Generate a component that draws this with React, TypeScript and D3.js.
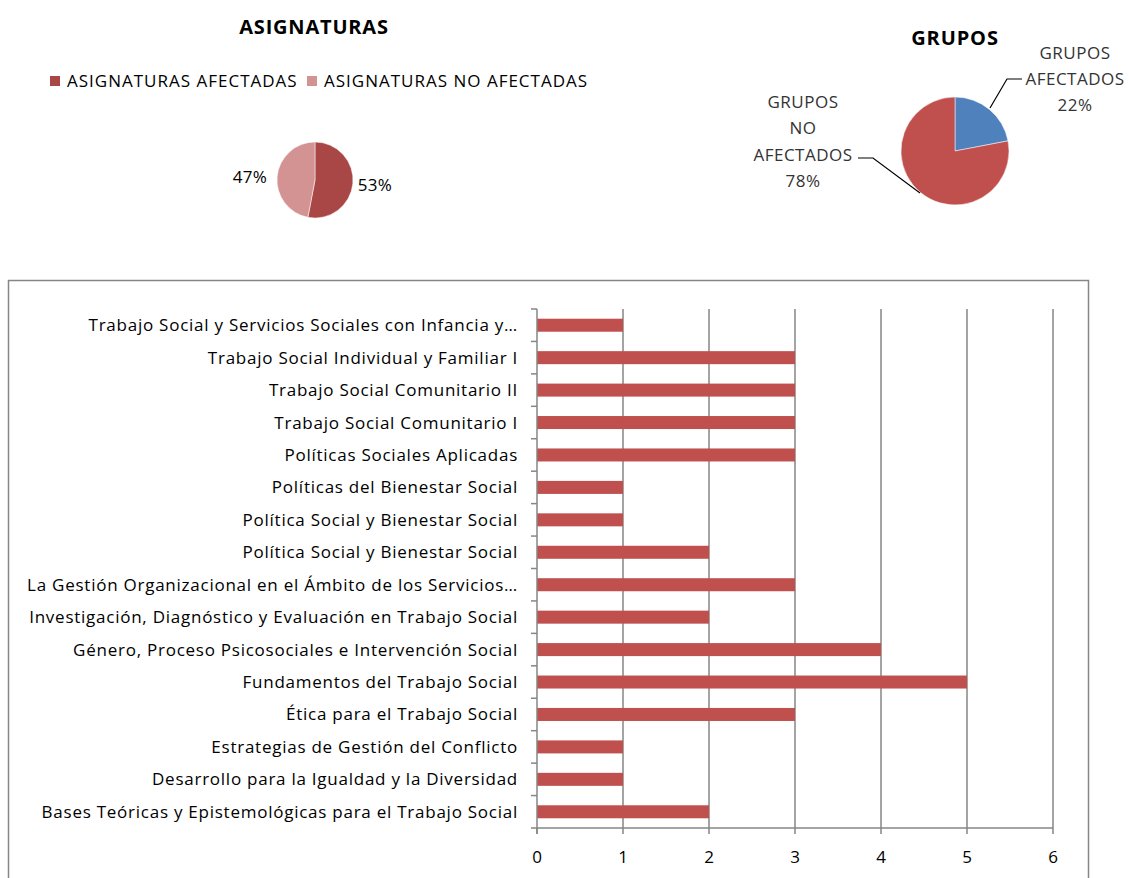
import React, { useEffect, useRef } from "react";
import * as d3 from "d3";

const categories = [
  "Trabajo Social y Servicios Sociales con Infancia y…",
  "Trabajo Social Individual y Familiar I",
  "Trabajo Social Comunitario II",
  "Trabajo Social Comunitario I",
  "Políticas Sociales Aplicadas",
  "Políticas del Bienestar Social",
  "Política Social y Bienestar Social",
  "Política Social y Bienestar Social",
  "La Gestión Organizacional en el Ámbito de los Servicios…",
  "Investigación, Diagnóstico y Evaluación en Trabajo Social",
  "Género, Proceso Psicosociales e Intervención Social",
  "Fundamentos del Trabajo Social",
  "Ética para el Trabajo Social",
  "Estrategias de Gestión del Conflicto",
  "Desarrollo para la Igualdad y la Diversidad",
  "Bases Teóricas y Epistemológicas para el Trabajo Social",
];
const values = [1, 3, 3, 3, 3, 1, 1, 2, 3, 2, 4, 5, 3, 1, 1, 2];
const xTicks = [0, 1, 2, 3, 4, 5, 6];

const asigLabels = ["ASIGNATURAS AFECTADAS", "ASIGNATURAS NO AFECTADAS"];
const asigValues = [53, 47];
const asigColors = ["#A94646", "#D39392"];

const gruposLabels = ["GRUPOS AFECTADOS", "GRUPOS NO AFECTADOS"];
const gruposValues = [22, 78];
const gruposColors = ["#4F81BD", "#C0504D"];

const FONT = "'Open Sans', 'Noto Sans', sans-serif";

export default function App() {
  const ref = useRef<SVGSVGElement>(null);
  useEffect(() => {
    const svg = d3.select(ref.current);
    svg.selectAll("*").remove();
    svg.attr("font-family", FONT);

    // ---------- Pie 1: ASIGNATURAS ----------
    const g1 = svg.append("g");
    g1.append("text").attr("x", 314).attr("y", 34).attr("text-anchor", "middle")
      .attr("font-size", 20).attr("font-weight", "bold").attr("letter-spacing", 0.8).text("ASIGNATURAS");
    const legX = [50, 307];
    asigLabels.forEach((l, i) => {
      g1.append("rect").attr("x", legX[i]).attr("y", 76).attr("width", 10).attr("height", 10).attr("fill", asigColors[i]);
      g1.append("text").attr("x", legX[i] + 17).attr("y", 87).attr("font-size", 17).attr("letter-spacing", 1.0).text(l);
    });
    const pie = d3.pie<number>().sort(null).value((d) => d);
    const arc1 = d3.arc<d3.PieArcDatum<number>>().innerRadius(0).outerRadius(38);
    const p1 = g1.append("g").attr("transform", "translate(315,180)");
    const a1 = pie(asigValues);
    p1.selectAll("path").data(a1).join("path").attr("d", arc1 as any)
      .attr("fill", (_, i) => asigColors[i]).attr("stroke", "#fff").attr("stroke-width", 0.5);
    const lbl1 = [[60, 11], [-65, 3]];
    a1.forEach((d, i) => {
      p1.append("text").attr("x", lbl1[i][0]).attr("y", lbl1[i][1]).attr("text-anchor", "middle")
        .attr("font-size", 17).attr("letter-spacing", 0.3).text(`${asigValues[i]}%`);
    });

    // ---------- Pie 2: GRUPOS ----------
    const g2 = svg.append("g");
    g2.append("text").attr("x", 955).attr("y", 45).attr("text-anchor", "middle")
      .attr("font-size", 20).attr("font-weight", "bold").attr("letter-spacing", 0.9).text("GRUPOS");
    const arc2 = d3.arc<d3.PieArcDatum<number>>().innerRadius(0).outerRadius(54);
    const p2 = g2.append("g").attr("transform", "translate(955,151)");
    const a2 = pie(gruposValues);
    p2.selectAll("path").data(a2).join("path").attr("d", arc2 as any)
      .attr("fill", (_, i) => gruposColors[i]).attr("stroke", "#fff").attr("stroke-width", 0.5);
    // leader lines
    g2.append("polyline").attr("points", "990,108 1007,79 1022,79").attr("fill", "none").attr("stroke", "#000").attr("stroke-width", 1.2);
    g2.append("polyline").attr("points", "858,158 873,158 920,193").attr("fill", "none").attr("stroke", "#000").attr("stroke-width", 1.2);
    const t1 = ["GRUPOS", "AFECTADOS", `${gruposValues[0]}%`];
    t1.forEach((t, i) => g2.append("text").attr("x", 1075).attr("y", 59 + i * 26).attr("text-anchor", "middle").attr("font-size", 17).attr("letter-spacing", 0.5).attr("fill", "#333").text(t));
    const t2 = ["GRUPOS", "NO", "AFECTADOS", `${gruposValues[1]}%`];
    t2.forEach((t, i) => g2.append("text").attr("x", 803).attr("y", 108 + i * 26.3).attr("text-anchor", "middle").attr("font-size", 17).attr("letter-spacing", 0.5).attr("fill", "#333").text(t));

    // ---------- Bar chart ----------
    const frame = svg.append("g");
    frame.append("rect").attr("x", 8.5).attr("y", 280.5).attr("width", 1080).attr("height", 640)
      .attr("fill", "#fff").attr("stroke", "#868686").attr("stroke-width", 1.5);

    const x = d3.scaleLinear().domain([0, 6]).range([537, 1053]);
    const yOuter = d3.scaleBand<number>().domain(d3.range(categories.length)).range([309, 828]);

    // gridlines
    frame.selectAll("line.grid").data(xTicks.slice(1)).join("line")
      .attr("x1", (d) => x(d)).attr("x2", (d) => x(d)).attr("y1", 309).attr("y2", 828)
      .attr("stroke", "#868686").attr("stroke-width", 1.5);

    // bars
    frame.selectAll("rect.bar").data(values).join("rect")
      .attr("x", x(0)).attr("y", (_, i) => yOuter(i)! + yOuter.bandwidth() / 2 - 6.5)
      .attr("width", (d) => x(d) - x(0)).attr("height", 13).attr("fill", "#C0504D");

    // bottom axis
    const ax = frame.append("g").attr("transform", "translate(0,828)");
    ax.append("line").attr("x1", x(0)).attr("x2", x(6)).attr("stroke", "#868686").attr("stroke-width", 1.5);
    ax.selectAll("line.t").data(xTicks).join("line").attr("x1", (d) => x(d)).attr("x2", (d) => x(d)).attr("y1", 0).attr("y2", 6)
      .attr("stroke", "#868686").attr("stroke-width", 1.5);
    ax.selectAll("text").data(xTicks).join("text").attr("x", (d) => x(d)).attr("y", 35).attr("text-anchor", "middle")
      .attr("font-size", 17).text((d) => String(d));

    // left axis
    const ay = frame.append("g");
    ay.append("line").attr("x1", x(0)).attr("x2", x(0)).attr("y1", 309).attr("y2", 834).attr("stroke", "#868686").attr("stroke-width", 1.5);
    const bounds = d3.range(categories.length + 1).map((i) => 309 + i * yOuter.step());
    ay.selectAll("line.t").data(bounds).join("line").attr("x1", x(0) - 6).attr("x2", x(0)).attr("y1", (d) => d).attr("y2", (d) => d)
      .attr("stroke", "#868686").attr("stroke-width", 1.5);
    ay.selectAll("text").data(categories).join("text").attr("x", 518)
      .attr("y", (_, i) => yOuter(i)! + yOuter.bandwidth() / 2 + 6).attr("text-anchor", "end")
      .attr("font-size", 17).attr("letter-spacing", 0.75).text((d) => d);
  }, []);

  return (
    <svg ref={ref} width={1129} height={878} style={{ position: "absolute", left: 0, top: 0, background: "#fff" }} />
  );
}
